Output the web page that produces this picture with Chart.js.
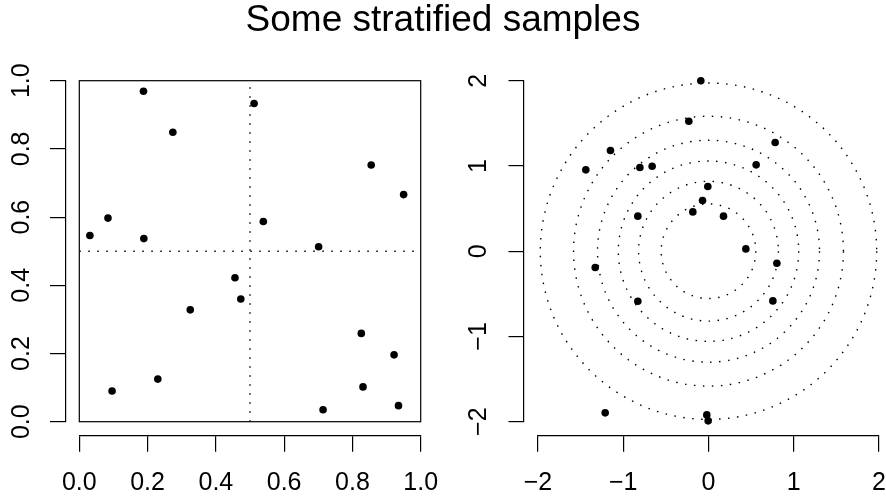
<!DOCTYPE html>
<html>
<head>
<meta charset="utf-8">
<script src="https://cdn.jsdelivr.net/npm/chart.js@4"></script>
<style>
  body { margin: 0; background: #fff; }
  #wrap { position: relative; width: 886px; height: 499px; overflow: hidden; }
  #wrap canvas { position: absolute; top: 0; }
  #title {
    position: absolute; left: 0; top: -0.5px; width: 886px;
    text-align: center; font: 37px/37px "Liberation Sans", Arial, sans-serif; color: #000;
  }
</style>
</head>
<body>
<div id="wrap">
  <canvas id="leftChart" width="443" height="499" style="left:0"></canvas>
  <canvas id="rightChart" width="443" height="499" style="left:443px"></canvas>
  <div id="title">Some stratified samples</div>
</div>
<script>
// square panel: 20 points, 5 per quadrant
const squareX = [0.188, 0.274, 0.512, 0.855, 0.950, 0.031, 0.084, 0.189, 0.539, 0.701,
                 0.456, 0.473, 0.325, 0.096, 0.230, 0.826, 0.922, 0.831, 0.935, 0.714];
const squareY = [0.969, 0.849, 0.933, 0.753, 0.666, 0.546, 0.597, 0.537, 0.587, 0.513,
                 0.422, 0.360, 0.328, 0.090, 0.125, 0.259, 0.196, 0.102, 0.047, 0.035];
const squareSplit = [0.5];
const squareTicks = [0, 0.2, 0.4, 0.6, 0.8, 1];
const squareTickLabels = ["0.0", "0.2", "0.4", "0.6", "0.8", "1.0"];

// disc panel: 21 points, 3 per ring
const discX = [-0.090, -0.231, 0.782, -1.150, -1.439, -0.805, -0.661, 0.559, -0.008, -0.070, -0.184,
               0.176, -0.829, 0.438, 0.802, -1.329, -0.829, 0.755, -1.212, -0.020, -0.004];
const discY = [2.000, 1.525, 1.275, 1.181, 0.954, 0.981, 0.997, 1.013, 0.759, 0.594, 0.461,
               0.411, 0.411, 0.027, -0.141, -0.192, -0.587, -0.583, -1.896, -1.920, -1.990];
const ringRadii = [0.555, 0.820, 1.058, 1.302, 1.583, 1.973];
const discTicks = [-2, -1, 0, 1, 2];
const discTickLabels = ["\u22122", "\u22121", "0", "1", "2"];

Chart.defaults.font.family = "'Liberation Sans', Arial, sans-serif";
Chart.defaults.color = "#000";

const DOT = [1.5, 7.5];

// R style axes: line pulled away from the plot region
const offsetAxes = (gapY, gapX) => ({
  id: "offsetAxes",
  afterLayout(chart) {
    const a = chart.chartArea;
    const ys = chart.scales.y, xs = chart.scales.x;
    ys.right = a.left - gapY;
    ys.left = ys.right - 60;
    xs.top = a.bottom + gapX;
    xs.bottom = xs.top + 60;
  }
});

const plotBox = {
  id: "plotBox",
  afterDatasetsDraw(chart) {
    const {ctx, chartArea: a} = chart;
    ctx.save();
    ctx.strokeStyle = "#000";
    ctx.lineWidth = 1.2;
    ctx.strokeRect(a.left, a.top, a.right - a.left, a.bottom - a.top);
    ctx.restore();
  }
};

const rings = {
  id: "rings",
  beforeDatasetsDraw(chart) {
    const {ctx, scales: {x, y}} = chart;
    const cx = x.getPixelForValue(0), cy = y.getPixelForValue(0);
    ctx.save();
    ctx.strokeStyle = "#000";
    ctx.lineWidth = 1.4;
    ctx.setLineDash(DOT);
    ringRadii.forEach(r => {
      const rp = x.getPixelForValue(r) - cx;
      ctx.beginPath();
      ctx.arc(cx, cy, rp, 0, Math.PI * 2);
      ctx.stroke();
    });
    ctx.restore();
  }
};

function axis(min, max, ticks, labels, opts) {
  return {
    type: "linear", min, max,
    afterBuildTicks: s => { s.ticks = ticks.map(v => ({value: v})); },
    afterFit: s => {
      opts.fit(s);
      s.paddingLeft = s.paddingRight = s.paddingTop = s.paddingBottom = 0;
    },
    ticks: {
      autoSkip: false,
      minRotation: opts.rot, maxRotation: opts.rot,
      crossAlign: opts.cross || "near",
      padding: opts.pad,
      font: {size: 25, lineHeight: 1},
      color: "#000",
      callback: (v, i) => labels[i]
    },
    grid: {drawOnChartArea: false, drawTicks: true, tickLength: opts.tl, color: "#000", lineWidth: 1.2},
    border: {display: true, color: "#000", width: 1.2}
  };
}

const points = (xs, ys) => ({
  data: xs.map((v, i) => ({x: v, y: ys[i]})),
  pointRadius: 3.8, pointBackgroundColor: "#000", pointBorderWidth: 0,
  showLine: false, clip: false
});

const divider = pts => ({
  data: pts, showLine: true, pointRadius: 0,
  borderColor: "#000", borderWidth: 1.4, borderDash: DOT
});

new Chart(document.getElementById("leftChart"), {
  type: "scatter",
  data: {
    datasets: [
      points(squareX, squareY),
      divider([{x: squareSplit[0], y: 0}, {x: squareSplit[0], y: 1}]),
      divider([{x: 0, y: squareSplit[0]}, {x: 1, y: squareSplit[0]}])
    ]
  },
  options: {
    responsive: false, animation: false, devicePixelRatio: 1,
    layout: {padding: {left: 0, top: 80.7, right: 22.3, bottom: 0}},
    plugins: {legend: {display: false}, tooltip: {enabled: false}},
    scales: {
      x: axis(0, 1, squareTicks, squareTickLabels, {rot: 0, pad: 19, tl: 16, fit: s => { s.height = 77.3; }}),
      y: axis(0, 1, squareTicks, squareTickLabels, {rot: 90, cross: "center", pad: 11, tl: 16, fit: s => { s.width = 79.3; }})
    }
  },
  plugins: [offsetAxes(13.3, 14), plotBox]
});

new Chart(document.getElementById("rightChart"), {
  type: "scatter",
  data: {datasets: [points(discX, discY)]},
  options: {
    responsive: false, animation: false, devicePixelRatio: 1,
    layout: {padding: {left: 0, top: 80.7, right: 7, bottom: 0}},
    plugins: {legend: {display: false}, tooltip: {enabled: false}},
    scales: {
      x: axis(-2, 2, discTicks, discTickLabels, {rot: 0, pad: 19, tl: 16, fit: s => { s.height = 77.3; }}),
      y: axis(-2, 2, discTicks, discTickLabels, {rot: 90, cross: "center", pad: 15, tl: 15, fit: s => { s.width = 95; }})
    }
  },
  plugins: [offsetAxes(14.5, 14), rings]
});
</script>
</body>
</html>
